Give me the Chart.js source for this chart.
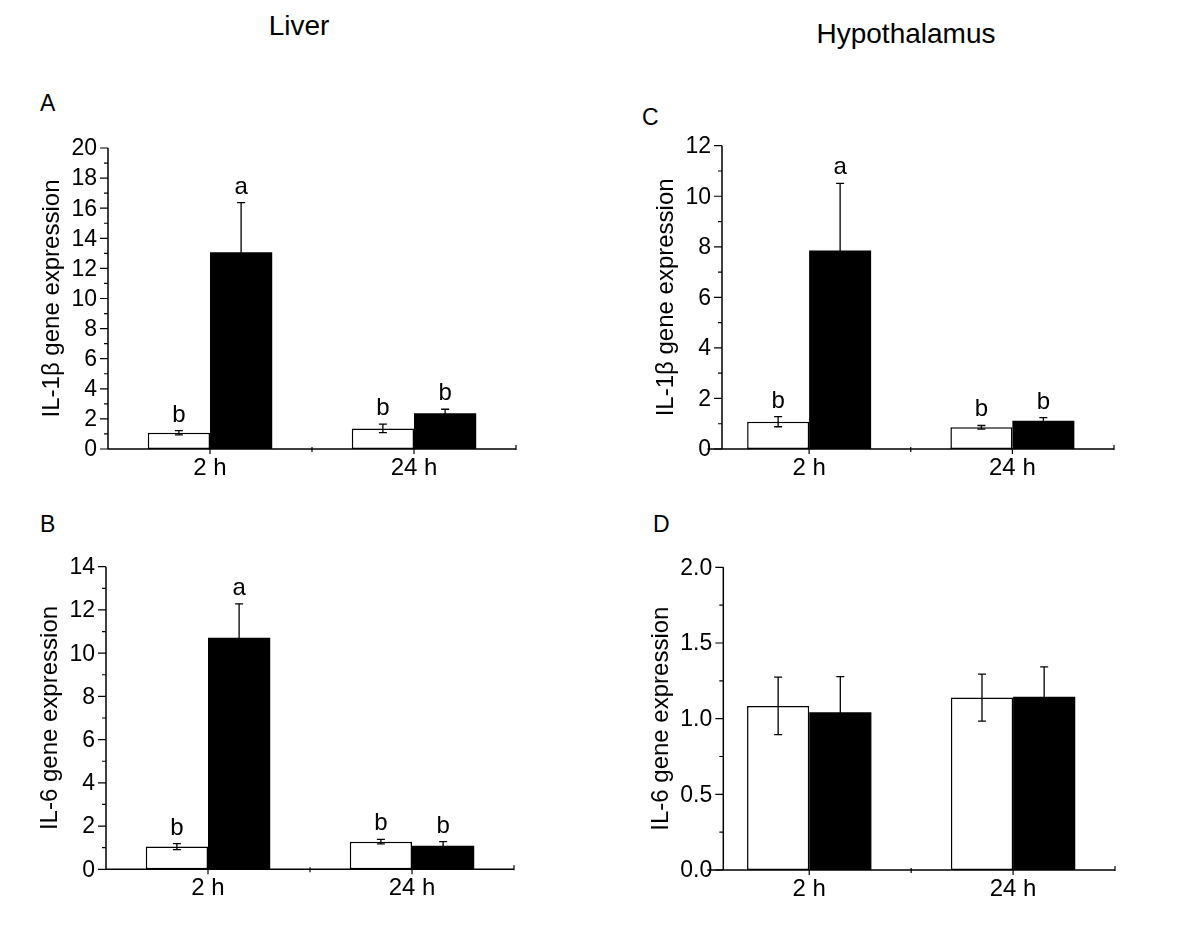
<!DOCTYPE html>
<html>
<head>
<meta charset="utf-8">
<script src="https://cdn.jsdelivr.net/npm/chart.js@4.4.1/dist/chart.umd.min.js"></script>
<style>
  body { margin: 0; background: #fff; width: 1200px; height: 942px; position: relative; overflow: hidden;
         font-family: "Liberation Sans", Arial, sans-serif; }
  canvas { position: absolute; }
  .txt { position: absolute; line-height: 1; color: #000; white-space: nowrap; }
</style>
</head>
<body>
<div class="txt" style="left:299px;top:12px;font-size:28px;transform:translateX(-50%)">Liver</div>
<div class="txt" style="left:906px;top:20px;font-size:28px;transform:translateX(-50%)">Hypothalamus</div>
<div class="txt" style="left:40px;top:92px;font-size:23px">A</div>
<div class="txt" style="left:40px;top:513px;font-size:23px">B</div>
<div class="txt" style="left:642px;top:106px;font-size:23px">C</div>
<div class="txt" style="left:653px;top:513px;font-size:23px">D</div>

<canvas id="chartA" width="600" height="440" style="left:0;top:60px"></canvas>
<canvas id="chartB" width="600" height="442" style="left:0;top:500px"></canvas>
<canvas id="chartC" width="600" height="440" style="left:600px;top:60px"></canvas>
<canvas id="chartD" width="600" height="442" style="left:600px;top:500px"></canvas>

<script>
const timePoints = ['2 h', '24 h'];

// A - liver IL-1β
const liverIL1bCtrl = [1.08, 1.37];
const liverIL1bCtrlErr = [0.14, 0.28];
const liverIL1bLps = [13.07, 2.37];
const liverIL1bLpsErr = [3.3, 0.27];
const liverIL1bCtrlLetters = ['b', 'b'];
const liverIL1bLpsLetters = ['a', 'b'];
const liverIL1bTicks = [0, 2, 4, 6, 8, 10, 12, 14, 16, 18, 20];

// B - liver IL-6
const liverIL6Ctrl = [1.05, 1.28];
const liverIL6CtrlErr = [0.14, 0.1];
const liverIL6Lps = [10.71, 1.09];
const liverIL6LpsErr = [1.57, 0.19];
const liverIL6CtrlLetters = ['b', 'b'];
const liverIL6LpsLetters = ['a', 'b'];
const liverIL6Ticks = [0, 2, 4, 6, 8, 10, 12, 14];

// C - hypothalamus IL-1β
const hypoIL1bCtrl = [1.08, 0.86];
const hypoIL1bCtrlErr = [0.2, 0.07];
const hypoIL1bLps = [7.85, 1.12];
const hypoIL1bLpsErr = [2.66, 0.12];
const hypoIL1bCtrlLetters = ['b', 'b'];
const hypoIL1bLpsLetters = ['a', 'b'];
const hypoIL1bTicks = [0, 2, 4, 6, 8, 10, 12];

// D - hypothalamus IL-6
const hypoIL6Ctrl = [1.084, 1.139];
const hypoIL6CtrlErr = [0.19, 0.155];
const hypoIL6Lps = [1.042, 1.145];
const hypoIL6LpsErr = [0.236, 0.197];
const hypoIL6Ticks = [0.0, 0.5, 1.0, 1.5, 2.0];

const FONT = '"Liberation Sans", Arial, sans-serif';

// draws error bars, letters and the Origin-style axes
const panelPlugin = {
  id: 'panelAxes',
  afterDatasetsDraw(chart) {
    const ctx = chart.ctx;
    const y = chart.scales.y;
    ctx.save();
    ctx.strokeStyle = '#000';
    ctx.fillStyle = '#000';
    ctx.lineWidth = 1.3;
    chart.data.datasets.forEach((ds, di) => {
      chart.getDatasetMeta(di).data.forEach((bar, i) => {
        const v = ds.data[i], e = ds.errors[i];
        const yTop = y.getPixelForValue(v + e);
        const yBot = y.getPixelForValue(v - e);
        ctx.beginPath();
        ctx.moveTo(bar.x, yTop); ctx.lineTo(bar.x, yBot);
        ctx.moveTo(bar.x - 4, yTop); ctx.lineTo(bar.x + 4, yTop);
        ctx.moveTo(bar.x - 4, yBot); ctx.lineTo(bar.x + 4, yBot);
        ctx.stroke();
        if (ds.letters) {
          ctx.font = '24px ' + FONT;
          ctx.textAlign = 'center';
          ctx.textBaseline = 'alphabetic';
          ctx.fillText(ds.letters[i], bar.x, yTop - 9);
        }
      });
    });
    ctx.restore();
  },
  afterDraw(chart, args, opts) {
    const ctx = chart.ctx;
    const x = chart.scales.x, y = chart.scales.y;
    const area = chart.chartArea;
    const axisX = opts.axisX !== undefined ? opts.axisX : area.left;
    const y0 = y.getPixelForValue(0);
    const ticks = opts.ticks;
    ctx.save();
    ctx.strokeStyle = '#000';
    ctx.fillStyle = '#000';
    ctx.lineWidth = 1.5;

    // axis lines
    ctx.beginPath();
    ctx.moveTo(area.left, y0); ctx.lineTo(area.right, y0);
    ctx.moveTo(axisX, y.getPixelForValue(ticks[ticks.length - 1])); ctx.lineTo(axisX, y0);
    ctx.stroke();

    // y ticks, major and minor
    ctx.lineWidth = 1.2;
    ctx.beginPath();
    ticks.forEach((t, k) => {
      const py = y.getPixelForValue(t);
      ctx.moveTo(axisX - 8, py); ctx.lineTo(axisX, py);
      if (k < ticks.length - 1) {
        const pm = y.getPixelForValue((t + ticks[k + 1]) / 2);
        ctx.moveTo(axisX - 4, pm); ctx.lineTo(axisX, pm);
      }
    });
    // x ticks
    const c0 = x.getPixelForValue(0), c1 = x.getPixelForValue(1);
    ctx.moveTo(c0, y0); ctx.lineTo(c0, y0 + 5);
    ctx.moveTo(c1, y0); ctx.lineTo(c1, y0 + 5);
    ctx.moveTo((c0 + c1) / 2, y0 - 2); ctx.lineTo((c0 + c1) / 2, y0 + 3);
    ctx.moveTo(area.right, y0 - 4); ctx.lineTo(area.right, y0 + 1);
    ctx.stroke();

    // y tick labels
    ctx.font = '23px ' + FONT;
    ctx.textAlign = 'right';
    ctx.textBaseline = 'middle';
    let maxW = 0;
    ticks.forEach(t => {
      const label = t.toFixed(opts.decimals || 0);
      maxW = Math.max(maxW, ctx.measureText(label).width);
      ctx.fillText(label, axisX - 11, y.getPixelForValue(t) + 1);
    });

    // x tick labels
    ctx.font = '24px ' + FONT;
    ctx.textAlign = 'center';
    ctx.textBaseline = 'top';
    chart.data.labels.forEach((lab, i) => {
      ctx.fillText(lab, x.getPixelForValue(i), y0 + 7);
    });

    // y title
    const tx = axisX - 11 - maxW - 19;
    ctx.translate(tx, (area.top + y0) / 2);
    ctx.rotate(-Math.PI / 2);
    ctx.font = '24px ' + FONT;
    ctx.textAlign = 'center';
    ctx.textBaseline = 'middle';
    ctx.fillText(opts.title, 0, 0);
    ctx.restore();
  }
};

function makePanel(id, canvasBox, plot, axisX, ctrl, ctrlErr, lps, lpsErr, ctrlLetters, lpsLetters, ticks, decimals, title) {
  const padding = {
    left: plot.left - canvasBox.left,
    top: plot.top - canvasBox.top,
    right: canvasBox.left + canvasBox.w - plot.right,
    bottom: canvasBox.top + canvasBox.h - plot.bottom
  };
  new Chart(document.getElementById(id), {
    type: 'bar',
    data: {
      labels: timePoints,
      datasets: [
        {
          label: 'Control',
          data: ctrl,
          errors: ctrlErr,
          letters: ctrlLetters,
          backgroundColor: '#fff',
          borderColor: '#000',
          borderWidth: 1.5,
          borderSkipped: false
        },
        {
          label: 'LPS',
          data: lps,
          errors: lpsErr,
          letters: lpsLetters,
          backgroundColor: '#000',
          borderColor: '#000',
          borderWidth: 0
        }
      ]
    },
    options: {
      responsive: false,
      animation: false,
      layout: { padding: padding },
      categoryPercentage: 0.61,
      barPercentage: 1,
      plugins: {
        legend: { display: false },
        tooltip: { enabled: false },
        panelAxes: { axisX: axisX, ticks: ticks, decimals: decimals, title: title }
      },
      scales: {
        x: { display: false, offset: true },
        y: { display: false, min: ticks[0], max: ticks[ticks.length - 1] }
      }
    },
    plugins: [panelPlugin]
  });
}

document.addEventListener('DOMContentLoaded', () => {
  makePanel('chartA', { left: 0, top: 60, w: 600, h: 440 },
    { left: 108, right: 516, top: 148, bottom: 449 }, undefined,
    liverIL1bCtrl, liverIL1bCtrlErr, liverIL1bLps, liverIL1bLpsErr,
    liverIL1bCtrlLetters, liverIL1bLpsLetters, liverIL1bTicks, 0, 'IL-1\u03B2 gene expression');

  makePanel('chartB', { left: 0, top: 500, w: 600, h: 442 },
    { left: 106, right: 514, top: 566.7, bottom: 869.3 }, undefined,
    liverIL6Ctrl, liverIL6CtrlErr, liverIL6Lps, liverIL6LpsErr,
    liverIL6CtrlLetters, liverIL6LpsLetters, liverIL6Ticks, 0, 'IL-6 gene expression');

  // hypothalamus panels: the y axis sits a little inside the x range
  makePanel('chartC', { left: 600, top: 60, w: 600, h: 440 },
    { left: 707.5, right: 1114, top: 145.7, bottom: 449 }, 122,
    hypoIL1bCtrl, hypoIL1bCtrlErr, hypoIL1bLps, hypoIL1bLpsErr,
    hypoIL1bCtrlLetters, hypoIL1bLpsLetters, hypoIL1bTicks, 0, 'IL-1\u03B2 gene expression');

  makePanel('chartD', { left: 600, top: 500, w: 600, h: 442 },
    { left: 707.3, right: 1115, top: 567.3, bottom: 870 }, 123.3,
    hypoIL6Ctrl, hypoIL6CtrlErr, hypoIL6Lps, hypoIL6LpsErr,
    null, null, hypoIL6Ticks, 1, 'IL-6 gene expression');
});
</script>
</body>
</html>
